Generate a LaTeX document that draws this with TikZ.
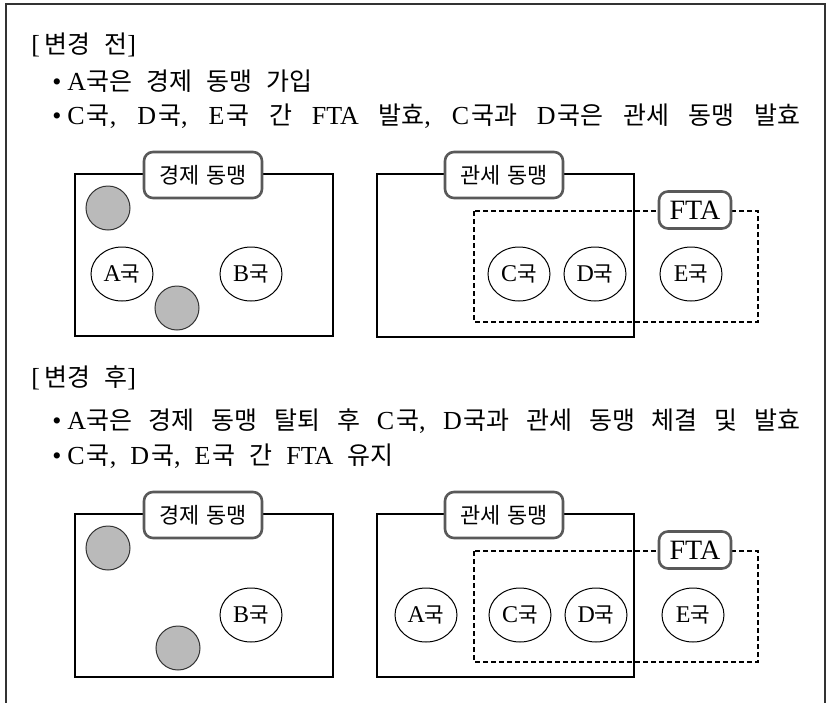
\documentclass[tikz,border=0pt]{standalone}
\usepackage{fontspec}
\setmainfont{Liberation Serif}
\newfontfamily\kr{Noto Sans CJK KR}[Scale=0.885]
\newfontfamily\krb{Noto Sans CJK KR}[Scale=0.96]
\usetikzlibrary{shapes.geometric}

\newcommand\bodyfont{\fontsize{13}{15}\selectfont\spaceskip 7pt plus 8pt\relax}
\newcommand\tagfont{\fontsize{12.4}{14}\selectfont\spaceskip 3.5pt\relax}
\newcommand\bul{\textbullet\hspace{3pt}}

\tikzset{
	frame/.style={draw=black!80, line width=1pt},
	union/.style={draw=black, line width=0.75pt},
	ftabox/.style={draw=black, dash pattern=on 2.5pt off 1.5pt, line width=0.6pt},
	tag/.style={draw=black!65, line width=1.3pt, rounded corners=4.5pt, fill=white, inner sep=0pt, minimum height=23pt, font=\tagfont},
	nation/.style={draw=black, ellipse, line width=0.5pt, minimum width=31pt, minimum height=27pt, inner sep=0pt, font=\fontsize{12}{14}\selectfont},
	other/.style={draw=black!80, circle, fill=black!27, line width=0.5pt, minimum size=22pt, inner sep=0pt},
	textline/.style={anchor=west, inner sep=0pt, font=\bodyfont}
}

\begin{document}
\begin{tikzpicture}[x=0.5pt, y=-0.5pt]
	\useasboundingbox (0,0) rectangle (832,703);
	%outer frame, open at the bottom
	\draw[frame] (6,703) -- (6,4) -- (825,4) -- (825,703);

	%before
	\node[textline] (head1) at (31,45) {[\,{\krb 변경 전}]};
	\node[textline] (pre1) at (52,81) {\bul A{\krb 국은 경제 동맹 가입}};
	\node[textline] (pre2) at (52,116) {\makebox[374pt][s]{\bul C\kern1pt{\krb 국}, D\kern1pt{\krb 국}, E\kern1pt{\krb 국 간} FTA {\krb 발효}, C\kern1pt{\krb 국과} D\kern1pt{\krb 국은 관세 동맹 발효}}};

	%economic union (before)
	\draw[union] (75,174) rectangle (333,336);
	\node[tag, minimum width=59pt] (econ1) at (203,175) {\kr 경제 동맹};
	\node[other] (g11) at (108,208) {};
	\node[other] (g12) at (177,308) {};
	\node[nation] (a1) at (122,274) {A{\kr 국}};
	\node[nation] (b1) at (251,274) {B{\kr 국}};

	%customs union + FTA (before)
	\draw[union] (377,174) rectangle (634,337);
	\draw[ftabox] (474,211) rectangle (758,322);
	\node[tag, minimum width=59pt] (cust1) at (504,175) {\kr 관세 동맹};
	\node[tag, minimum width=36pt, minimum height=18.5pt, font=\fontsize{14}{16}\selectfont] (fta1) at (695,210) {FTA};
	\node[nation] (c1) at (519,274) {C{\kr 국}};
	\node[nation] (d1) at (595,274) {D{\kr 국}};
	\node[nation] (e1) at (691,274) {E{\kr 국}};

	%after
	\node[textline] (head2) at (31,378) {[\,{\krb 변경 후}]};
	\node[textline] (post1) at (52,421) {\makebox[374pt][s]{\bul A{\krb 국은 경제 동맹 탈퇴 후} C\kern1pt{\krb 국}, D\kern1pt{\krb 국과 관세 동맹 체결 및 발효}}};
	\node[textline] (post2) at (52,456) {\bul C\kern1pt{\krb 국}, D\kern1pt{\krb 국}, E\kern1pt{\krb 국 간} FTA {\krb 유지}};

	%economic union (after)
	\draw[union] (75,514) rectangle (333,677);
	\node[tag, minimum width=59pt] (econ2) at (203,515) {\kr 경제 동맹};
	\node[other] (g21) at (108,548) {};
	\node[other] (g22) at (178,648) {};
	\node[nation] (b2) at (251,615) {B{\kr 국}};

	%customs union + FTA (after)
	\draw[union] (377,514) rectangle (634,677);
	\draw[ftabox] (474,551) rectangle (758,662);
	\node[tag, minimum width=59pt] (cust2) at (504,515) {\kr 관세 동맹};
	\node[tag, minimum width=36pt, minimum height=18.5pt, font=\fontsize{14}{16}\selectfont] (fta2) at (695,550) {FTA};
	\node[nation] (a2) at (426,615) {A{\kr 국}};
	\node[nation] (c2) at (520,615) {C{\kr 국}};
	\node[nation] (d2) at (596,615) {D{\kr 국}};
	\node[nation] (e2) at (693,615) {E{\kr 국}};
\end{tikzpicture}
\end{document}
